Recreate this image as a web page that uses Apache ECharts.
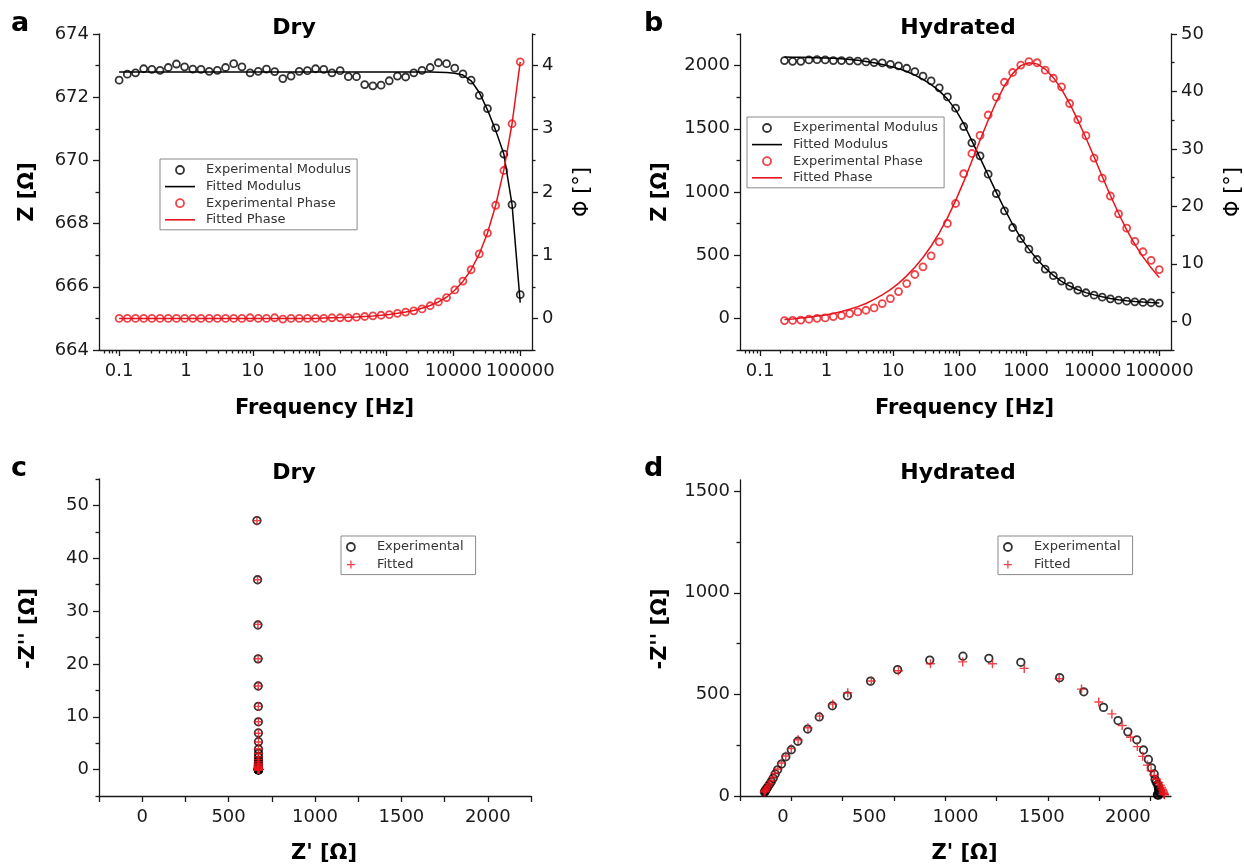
<!DOCTYPE html>
<html>
<head>
<meta charset="utf-8">
<script src="https://cdn.jsdelivr.net/npm/echarts@6/dist/echarts.min.js"></script>
<style>
  html, body { margin: 0; padding: 0; background: #fff; }
  #chart { width: 1244px; height: 865px; }
</style>
</head>
<body>
<div id="chart"></div>
<script>
// frequencies (Hz), 50 log-spaced points from 0.1 Hz to 100 kHz
const freqDry = [0.1, 0.1326, 0.1758, 0.2330, 0.3089, 0.4095, 0.5429, 0.7197, 0.9541, 1.265,
  1.677, 2.223, 2.947, 3.907, 5.179, 6.866, 9.103, 12.07, 16.00, 21.21,
  28.12, 37.28, 49.42, 65.51, 86.85, 115.1, 152.6, 202.4, 268.3, 355.6,
  471.5, 625.1, 828.6, 1099, 1456, 1931, 2560, 3393, 4498, 5964,
  7906, 10481, 13895, 18421, 24421, 32375, 42919, 56899, 75431, 100000];
const freqHyd = [0.2330, 0.3089, 0.4095, 0.5429, 0.7197, 0.9541, 1.265,
  1.677, 2.223, 2.947, 3.907, 5.179, 6.866, 9.103, 12.07, 16.00, 21.21,
  28.12, 37.28, 49.42, 65.51, 86.85, 115.1, 152.6, 202.4, 268.3, 355.6,
  471.5, 625.1, 828.6, 1099, 1456, 1931, 2560, 3393, 4498, 5964,
  7906, 10481, 13895, 18421, 24421, 32375, 42919, 56899, 75431, 100000];

// a: dry, modulus (Ohm) and phase (deg)
const modDryExp = [672.54, 672.73, 672.77, 672.90, 672.88, 672.85, 672.94, 673.05, 672.96, 672.89,
  672.88, 672.82, 672.85, 672.94, 673.06, 672.96, 672.77, 672.82, 672.89, 672.81,
  672.59, 672.67, 672.82, 672.84, 672.90, 672.88, 672.77, 672.84, 672.65, 672.65,
  672.40, 672.36, 672.38, 672.52, 672.67, 672.64, 672.77, 672.85, 672.94, 673.09,
  673.06, 672.92, 672.74, 672.54, 672.06, 671.64, 671.03, 670.20, 668.60, 665.75];
const modDryFit = [672.80, 672.80, 672.80, 672.80, 672.80, 672.80, 672.80, 672.80, 672.80, 672.80,
  672.80, 672.80, 672.80, 672.80, 672.80, 672.80, 672.80, 672.80, 672.80, 672.80,
  672.80, 672.80, 672.80, 672.80, 672.80, 672.80, 672.80, 672.80, 672.80, 672.80,
  672.80, 672.80, 672.80, 672.80, 672.80, 672.80, 672.80, 672.80, 672.80, 672.79,
  672.78, 672.76, 672.70, 672.52, 672.15, 671.60, 670.95, 670.20, 668.60, 665.50];
const phaseDryExp = [0, 0, 0, 0, 0, 0, 0, 0, 0, 0,
  0, 0, 0, 0, 0, 0, 0.01, 0, 0, 0.01,
  -0.01, 0, 0, 0, 0, 0, 0.01, 0.01, 0.01, 0.02,
  0.03, 0.04, 0.05, 0.06, 0.08, 0.10, 0.12, 0.15, 0.20, 0.26,
  0.33, 0.45, 0.59, 0.77, 1.02, 1.35, 1.79, 2.34, 3.08, 4.06];
const phaseDryFit = [0, 0, 0, 0, 0, 0, 0, 0, 0, 0,
  0, 0, 0, 0, 0, 0, 0, 0, 0, 0,
  0, 0, 0, 0, 0, 0.005, 0.01, 0.013, 0.017, 0.022,
  0.03, 0.037, 0.048, 0.062, 0.08, 0.10, 0.125, 0.16, 0.205, 0.26,
  0.335, 0.445, 0.585, 0.77, 1.02, 1.35, 1.79, 2.35, 3.08, 4.06];

// b: hydrated
const modHydExp = [2040, 2034, 2034, 2045, 2047, 2045, 2040, 2040, 2038, 2036,
  2029, 2024, 2021, 2010, 1998, 1979, 1953, 1916, 1879, 1824,
  1752, 1663, 1518, 1389, 1286, 1141, 988, 851, 719, 632,
  548, 466, 390, 338, 295, 256, 224, 203, 184, 168,
  155, 144, 136, 131, 126, 124, 121];
const modHydFit = [2068, 2067, 2066, 2065, 2063, 2061, 2058, 2054, 2049, 2042,
  2033, 2022, 2009, 1994, 1976, 1953, 1925, 1891, 1850, 1800,
  1735, 1652, 1540, 1405, 1270, 1133, 997, 866, 745, 637,
  548, 468, 398, 340, 293, 256, 227, 204, 186, 171,
  158, 148, 140, 134, 129, 125, 122];
const phaseHydExp = [0.12, 0.15, 0.20, 0.35, 0.52, 0.59, 0.82, 0.99, 1.34, 1.63,
  1.92, 2.33, 3.08, 3.95, 5.17, 6.57, 8.14, 9.48, 11.39, 13.83,
  17.02, 20.5, 25.68, 29.2, 32.35, 35.9, 39.0, 41.6, 43.3, 44.6,
  45.2, 45.0, 43.7, 42.3, 40.8, 37.9, 35.1, 32.3, 28.4, 24.9,
  21.8, 18.7, 16.2, 13.9, 12.1, 10.6, 9.0];
const phaseHydFit = [0.3, 0.4, 0.55, 0.7, 0.9, 1.1, 1.35, 1.7, 2.1, 2.55,
  3.1, 3.8, 4.6, 5.5, 6.6, 7.9, 9.4, 11.1, 13.1, 15.4,
  18.0, 21.0, 24.3, 27.9, 31.5, 35.0, 38.2, 41.0, 43.1, 44.5,
  45.0, 44.8, 43.9, 42.4, 40.4, 37.9, 35.0, 31.9, 28.6, 25.2,
  21.9, 18.8, 15.9, 13.4, 11.2, 9.3, 7.6];

// c: dry Nyquist, Z' and -Z'' (Ohm)
const reDryExp = [672.54, 672.73, 672.77, 672.90, 672.88, 672.85, 672.94, 673.05, 672.96, 672.89,
  672.88, 672.82, 672.85, 672.94, 673.06, 672.96, 672.77, 672.82, 672.89, 672.81,
  672.59, 672.67, 672.82, 672.84, 672.90, 672.88, 672.77, 672.84, 672.65, 672.65,
  672.40, 672.36, 672.38, 672.52, 672.67, 672.64, 672.77, 672.85, 672.94, 673.09,
  673.06, 672.90, 672.70, 672.48, 671.95, 671.45, 670.70, 669.64, 667.63, 664.08];
const imDryExp = [0, 0, 0, 0, 0, 0, 0, 0, 0, 0,
  0, 0, 0, 0, 0, 0, 0.12, 0, 0, 0.12,
  -0.12, 0, 0, 0, 0, 0, 0.12, 0.12, 0.12, 0.23,
  0.35, 0.47, 0.59, 0.70, 0.94, 1.17, 1.41, 1.76, 2.35, 3.05,
  3.87, 5.28, 6.93, 9.04, 11.96, 15.82, 20.96, 27.37, 35.93, 47.13];
const reDryFit = [672.80, 672.80, 672.80, 672.80, 672.80, 672.80, 672.80, 672.80, 672.80, 672.80,
  672.80, 672.80, 672.80, 672.80, 672.80, 672.80, 672.80, 672.80, 672.80, 672.80,
  672.80, 672.80, 672.80, 672.80, 672.80, 672.80, 672.80, 672.80, 672.80, 672.80,
  672.80, 672.80, 672.80, 672.80, 672.80, 672.80, 672.80, 672.80, 672.80, 672.79,
  672.78, 672.75, 672.67, 672.46, 672.04, 671.41, 670.62, 669.64, 667.63, 663.83];
const imDryFit = [0, 0, 0, 0, 0, 0, 0, 0, 0, 0,
  0, 0, 0, 0, 0, 0, 0, 0, 0, 0,
  0, 0, 0, 0, 0, 0.06, 0.12, 0.15, 0.20, 0.26,
  0.35, 0.43, 0.56, 0.73, 0.94, 1.17, 1.47, 1.88, 2.41, 3.05,
  3.93, 5.23, 6.87, 9.04, 11.96, 15.82, 20.96, 27.48, 35.93, 47.12];

// d: hydrated Nyquist
const reHydExp = [2040.0, 2034.0, 2034.0, 2045.0, 2046.9, 2044.9, 2039.8, 2039.7, 2037.4, 2035.2,
  2027.9, 2022.3, 2018.1, 2005.2, 1989.9, 1966.0, 1933.3, 1889.8, 1842.0, 1771.1,
  1675.2, 1557.6, 1368.3, 1212.6, 1086.5, 924.6, 767.8, 636.2, 523.3, 449.9,
  386.1, 329.5, 281.9, 250.0, 223.3, 202.0, 183.3, 171.6, 161.8, 152.4,
  143.9, 136.4, 130.6, 127.2, 123.2, 121.9, 119.5];
const imHydExp = [4.3, 5.3, 7.1, 12.5, 18.6, 21.1, 29.2, 35.2, 47.7, 57.9,
  68.0, 82.3, 108.6, 138.5, 180.0, 226.4, 276.5, 315.6, 371.1, 436.0,
  512.8, 582.4, 657.8, 677.6, 688.1, 669.1, 621.8, 565.1, 493.1, 443.8,
  388.9, 329.5, 269.5, 227.5, 192.8, 157.3, 128.8, 108.5, 87.5, 70.7,
  57.6, 46.2, 37.9, 31.5, 26.4, 22.8, 18.9];
const reHydFit = [2068, 2067, 2066, 2065, 2063, 2061, 2058, 2054, 2048, 2040,
  2030, 2018, 2003, 1985, 1962, 1936, 1903, 1862, 1812, 1748,
  1664, 1555, 1385, 1230, 1085, 928, 772, 640, 525, 452,
  388, 331, 283, 250, 223, 202, 184, 171, 161, 152,
  144, 137, 131, 127, 123, 121, 118];
const imHydFit = [6, 8, 11, 15, 20, 26, 33, 42, 53, 66,
  82, 101, 124, 152, 195, 243, 289, 347, 404, 463,
  526, 577, 628, 651, 660, 651, 616, 566, 508, 452,
  393, 336, 277, 233, 197, 162, 133, 112, 91, 74,
  60, 49, 40, 33, 27, 23, 19];

// tick values
const decadeTicks = [0.1, 1, 10, 100, 1000, 10000, 100000];
const zTicksDry = [664, 666, 668, 670, 672, 674];
const zMinorDry = [665, 667, 669, 671, 673];
const phiTicksDry = [0, 1, 2, 3, 4];
const phiMinorDry = [-0.5, 0.5, 1.5, 2.5, 3.5, 4.5];
const zTicksHyd = [0, 500, 1000, 1500, 2000];
const zMinorHyd = [-250, 250, 750, 1250, 1750, 2250];
const phiTicksHyd = [0, 10, 20, 30, 40, 50];
const phiMinorHyd = [-5, 5, 15, 25, 35, 45];
const nyqYTicksDry = [0, 10, 20, 30, 40, 50];
const nyqYMinorDry = [-5, 5, 15, 25, 35, 45, 55];
const nyqXTicks = [0, 500, 1000, 1500, 2000];
const nyqXMinor = [-250, 250, 750, 1250, 1750, 2250];
const nyqYTicksHyd = [0, 500, 1000, 1500];
const nyqYMinorHyd = [250, 750, 1250];
const nyqXTicksHydData = [0, 500, 1000, 1500, 2000];
const nyqXMinorHydData = [250, 750, 1250, 1750];

const logMinor = [];
[0.01, 0.1, 1, 10, 100, 1000, 10000].forEach(d => {
  [2, 3, 4, 5, 6, 7, 8, 9].forEach(m => {
    const v = +(d * m).toPrecision(3);
    if (v > 0.05 && v < 150000) logMinor.push(v);
  });
});

const FONT = 'DejaVu Sans';
const INK = '#1a1a1a';
const RED = '#e8141b';
const PLUS = 'path://M4.2,0H5.8V4.2H10V5.8H5.8V10H4.2V5.8H0V4.2H4.2Z';
const DASH = 'path://M0,0H30V1.6H0Z';

const chart = echarts.init(document.getElementById('chart'));

const lineStyle = { color: INK, width: 1.3 };

function axis(o) {
  const a = {
    type: o.type || 'value',
    gridIndex: o.grid,
    position: o.pos,
    min: o.min,
    max: o.max,
    axisLine: { show: o.line !== false, onZero: false, lineStyle },
    axisTick: o.ticks
      ? { show: true, inside: false, length: o.tickLen || 6, customValues: o.ticks, lineStyle }
      : { show: false },
    axisLabel: o.labels
      ? { show: true, customValues: o.labels, margin: o.margin || 10, color: INK,
          fontFamily: FONT, fontSize: 18, formatter: o.fmt || (v => String(v)) }
      : { show: false },
    splitLine: { show: false },
    minorTick: { show: false },
    axisPointer: { show: false }
  };
  if (o.type === 'log') a.logBase = 10;
  if (o.name) {
    a.name = o.name;
    a.nameLocation = 'middle';
    a.nameGap = o.nameGap;
    if (o.nameRotate !== undefined) a.nameRotate = o.nameRotate;
    a.nameTextStyle = { color: '#000', fontFamily: FONT, fontSize: 21,
      fontWeight: o.nameWeight || 'bold', padding: o.namePad || 0 };
  }
  return a;
}

const logFmt = v => (v < 1 ? '0.1' : String(Math.round(v)));

const xAxis = [
  // a
  axis({ type: 'log', grid: 0, pos: 'bottom', min: 0.05, max: 150000, ticks: decadeTicks, labels: decadeTicks,
    fmt: logFmt, margin: 12, name: 'Frequency [Hz]', nameGap: 48, namePad: [0, 0, 0, 18] }),
  axis({ type: 'log', grid: 0, pos: 'bottom', min: 0.05, max: 150000, ticks: logMinor, tickLen: 3.5, line: false }),
  // b
  axis({ type: 'log', grid: 1, pos: 'bottom', min: 0.05, max: 150000, ticks: decadeTicks, labels: decadeTicks,
    fmt: logFmt, margin: 12, name: 'Frequency [Hz]', nameGap: 48, namePad: [0, 0, 0, 18] }),
  axis({ type: 'log', grid: 1, pos: 'bottom', min: 0.05, max: 150000, ticks: logMinor, tickLen: 3.5, line: false }),
  // c
  axis({ grid: 2, pos: 'bottom', min: -250, max: 2250, ticks: nyqXTicks, labels: nyqXTicks, margin: 12,
    name: "Z' [Ω]", nameGap: 47, namePad: [0, 0, 0, 18] }),
  axis({ grid: 2, pos: 'bottom', min: -250, max: 2250, ticks: nyqXMinor, tickLen: 6, line: false }),
  // d: data scale, ticks every 250
  axis({ grid: 3, pos: 'bottom', min: 0, max: 2100, ticks: nyqXTicksHydData, tickLen: 5 }),
  axis({ grid: 3, pos: 'bottom', min: 0, max: 2100, ticks: nyqXMinorHydData, tickLen: 5, line: false }),
  // d: printed labels
  axis({ grid: 3, pos: 'bottom', min: -250, max: 2250, labels: nyqXTicks, margin: 12, line: false,
    name: "Z' [Ω]", nameGap: 47, namePad: [0, 0, 0, 18] })
];

const yAxis = [
  // a
  axis({ grid: 0, pos: 'left', min: 664, max: 674, ticks: zTicksDry, labels: zTicksDry, name: 'Z [Ω]',
    nameGap: 61, nameRotate: 90 }),
  axis({ grid: 0, pos: 'left', min: 664, max: 674, ticks: zMinorDry, tickLen: 3.5, line: false }),
  axis({ grid: 0, pos: 'right', min: -0.5, max: 4.5, ticks: phiTicksDry, labels: phiTicksDry, name: 'Φ [°]',
    nameGap: 40, nameRotate: 90, nameWeight: 'normal' }),
  axis({ grid: 0, pos: 'right', min: -0.5, max: 4.5, ticks: phiMinorDry, tickLen: 3.5, line: false }),
  // b
  axis({ grid: 1, pos: 'left', min: -250, max: 2250, ticks: zTicksHyd, labels: zTicksHyd, name: 'Z [Ω]',
    nameGap: 69, nameRotate: 90 }),
  axis({ grid: 1, pos: 'left', min: -250, max: 2250, ticks: zMinorHyd, tickLen: 3.5, line: false }),
  axis({ grid: 1, pos: 'right', min: -5, max: 50, ticks: phiTicksHyd, labels: phiTicksHyd, name: 'Φ [°]',
    nameGap: 52, nameRotate: 90, nameWeight: 'normal' }),
  axis({ grid: 1, pos: 'right', min: -5, max: 50, ticks: phiMinorHyd, tickLen: 3.5, line: false }),
  // c
  axis({ grid: 2, pos: 'left', min: -5, max: 55, ticks: nyqYTicksDry, labels: nyqYTicksDry, name: "-Z'' [Ω]",
    nameGap: 60, nameRotate: 90, namePad: [0, 0, 0, 18] }),
  axis({ grid: 2, pos: 'left', min: -5, max: 55, ticks: nyqYMinorDry, tickLen: 3.5, line: false }),
  // d
  axis({ grid: 3, pos: 'left', min: 0, max: 1555, ticks: nyqYTicksHyd, labels: nyqYTicksHyd, name: "-Z'' [Ω]",
    nameGap: 69, nameRotate: 90, namePad: [0, 0, 0, 18] }),
  axis({ grid: 3, pos: 'left', min: 0, max: 1555, ticks: nyqYMinorHyd, tickLen: 3.5, line: false })
];

const grid = [
  { left: 99, top: 34, width: 433, height: 316, outerBoundsMode: 'none' },
  { left: 740, top: 34, width: 431, height: 316, outerBoundsMode: 'none' },
  { left: 99, top: 479, width: 432, height: 317, outerBoundsMode: 'none' },
  { left: 740, top: 480, width: 431, height: 316, outerBoundsMode: 'none' }
];

const pairs = (xs, ys) => xs.map((x, i) => [x, ys[i]]);

function hollow(name, color, xi, yi, data, size) {
  return {
    name, type: 'scatter', xAxisIndex: xi, yAxisIndex: yi, data,
    symbol: 'circle', symbolSize: size || 7,
    itemStyle: { color: 'transparent', borderColor: color, borderWidth: 1.8 },
    emphasis: { disabled: true }, silent: true
  };
}
function fitLine(name, color, xi, yi, data) {
  return {
    name, type: 'line', xAxisIndex: xi, yAxisIndex: yi, data,
    symbol: 'none', lineStyle: { color, width: 1.5 }, itemStyle: { color },
    emphasis: { disabled: true }, silent: true
  };
}
function plus(name, xi, yi, data) {
  return {
    name, type: 'scatter', xAxisIndex: xi, yAxisIndex: yi, data,
    symbol: PLUS, symbolSize: 9, itemStyle: { color: RED },
    emphasis: { disabled: true }, silent: true
  };
}

const series = [
  hollow('Experimental Modulus', '#000', 0, 0, pairs(freqDry, modDryExp)),
  fitLine('Fitted Modulus', '#000', 0, 0, pairs(freqDry, modDryFit)),
  hollow('Experimental Phase', RED, 0, 2, pairs(freqDry, phaseDryExp)),
  fitLine('Fitted Phase', RED, 0, 2, pairs(freqDry, phaseDryFit)),

  hollow('Experimental Modulus', '#000', 2, 4, pairs(freqHyd, modHydExp)),
  fitLine('Fitted Modulus', '#000', 2, 4, pairs(freqHyd, modHydFit)),
  hollow('Experimental Phase', RED, 2, 6, pairs(freqHyd, phaseHydExp)),
  fitLine('Fitted Phase', RED, 2, 6, pairs(freqHyd, phaseHydFit)),

  hollow('Experimental', '#000', 4, 8, pairs(reDryExp, imDryExp), 7.5),
  plus('Fitted', 4, 8, pairs(reDryFit, imDryFit)),

  hollow('Experimental', '#000', 6, 10, pairs(reHydExp, imHydExp), 7.5),
  plus('Fitted', 6, 10, pairs(reHydFit, imHydFit))
];

function legend(items, left, top, gap, padRight) {
  return {
    orient: 'vertical', left, top, data: items,
    itemWidth: 30, itemHeight: 8, itemGap: gap,
    padding: [4.5, padRight, 3.5, 5],
    borderColor: '#8a8a8a', borderWidth: 1, borderRadius: 0, backgroundColor: '#fff',
    selectedMode: false, symbolKeepAspect: true,
    textStyle: { fontFamily: FONT, fontSize: 13, color: '#333', lineHeight: 13, padding: [0, 0, 0, 6] }
  };
}
const expIcon = color => ({ icon: 'circle', itemStyle: { color: 'transparent', borderColor: color, borderWidth: 1.8 } });
const fitIcon = color => ({ icon: DASH, itemStyle: { color, borderWidth: 0 } });

const bodeLegend = [
  Object.assign({ name: 'Experimental Modulus' }, expIcon('#000')),
  Object.assign({ name: 'Fitted Modulus' }, fitIcon('#000')),
  Object.assign({ name: 'Experimental Phase' }, expIcon(RED)),
  Object.assign({ name: 'Fitted Phase' }, fitIcon(RED))
];
const nyqLegend = [
  Object.assign({ name: 'Experimental' }, expIcon('#000')),
  { name: 'Fitted', icon: PLUS, itemStyle: { color: RED, borderWidth: 0 } }
];

function label(text, x, y, size, align) {
  return {
    type: 'text', x, y, silent: true,
    style: { text, fill: '#000', font: 'bold ' + size + 'px "DejaVu Sans"', align: align || 'left', verticalAlign: 'middle' }
  };
}

chart.setOption({
  animation: false,
  backgroundColor: '#fff',
  grid,
  xAxis,
  yAxis,
  series,
  legend: [
    legend(bodeLegend, 160, 159, 3.6, 6),
    legend(bodeLegend, 747, 117, 3.6, 6),
    legend(nyqLegend, 341, 536, 4.6, 12),
    legend(nyqLegend, 998, 536, 4.6, 12)
  ],
  graphic: [
    label('a', 11, 24, 27),
    label('b', 644, 24, 27),
    label('c', 11, 469, 27),
    label('d', 644, 469, 27),
    label('Dry', 294, 28, 22, 'center'),
    label('Hydrated', 958, 28, 22, 'center'),
    label('Dry', 294, 473, 22, 'center'),
    label('Hydrated', 958, 473, 22, 'center')
  ]
});
</script>
</body>
</html>
